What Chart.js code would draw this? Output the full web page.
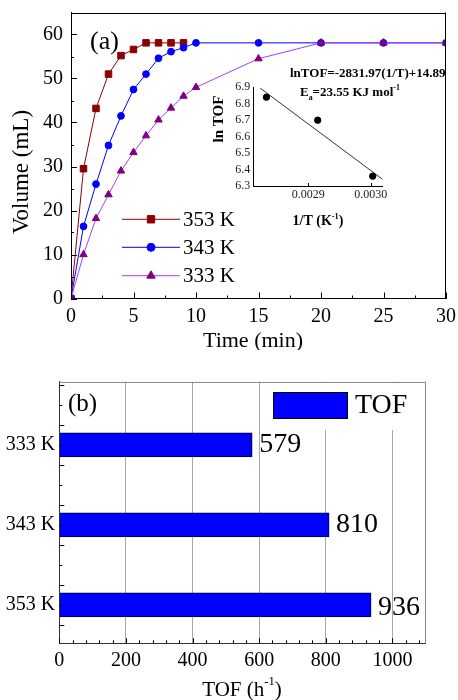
<!DOCTYPE html>
<html>
<head>
<meta charset="utf-8">
<script src="https://cdn.jsdelivr.net/npm/chart.js@4/dist/chart.umd.min.js"></script>
<style>
    html, body { margin: 0; padding: 0; background: #fff; }
    #wrap { position: relative; width: 458px; height: 700px; }
    #volChart { position: absolute; left: 0; top: 0; }
    #fitChart { position: absolute; left: 205px; top: 60px; }
    #tofChart { position: absolute; left: 0; top: 350px; }
</style>
</head>
<body>
<div id="wrap">
    <canvas id="volChart" width="458" height="350"></canvas>
    <canvas id="fitChart" width="200" height="175"></canvas>
    <canvas id="tofChart" width="458" height="350"></canvas>
</div>
<script>
// (a) volume vs time
var timeMin = [0, 1, 2, 3, 4, 5, 6, 7, 8, 9, 10, 15, 20, 25, 30];
var vol353 = [0, 29.5, 43.2, 51.0, 55.2, 56.6, 58.1, 58.1, 58.1, 58.1];
var vol343 = [0, 16.4, 26.0, 34.8, 41.5, 47.5, 51.0, 54.6, 56.1, 57.0, 58.1, 58.1, 58.1, 58.1, 58.1];
var vol333 = [0, 10.0, 18.2, 23.6, 29.0, 33.2, 37.0, 40.6, 43.3, 46.0, 48.0, 54.5, 58.1, 58.1, 58.1];
var seriesNames = ['353 K', '343 K', '333 K'];
var timeTicks = [0, 5, 10, 15, 20, 25, 30];
var volTicks = [0, 10, 20, 30, 40, 50, 60];

// inset: Arrhenius plot
var invT = [0.002833, 0.002915, 0.003003];
var lnTOF = [6.84, 6.70, 6.36];
var fitInvT = [0.002823, 0.003019];
var fitLnTOF = [6.895, 6.340];
var invTTicks = [0.0029, 0.0030];
var lnTicks = [6.3, 6.4, 6.5, 6.6, 6.7, 6.8, 6.9];

// (b) TOF bars
var tempLabels = ['353 K', '343 K', '333 K'];
var tofValues = [936, 810, 579];
var tofTicks = [0, 200, 400, 600, 800, 1000];

var serif = "'Liberation Serif', 'Times New Roman', serif";
var red = '#8b0000', blue = '#0000ff', purple = '#800080', violet = '#a040ff';

function pairs(xs, ys) {
    return ys.map(function(v, i) { return { x: xs[i], y: v }; });
}
function fontStr(size, weight) {
    return (weight || 'normal') + ' ' + size + 'px ' + serif;
}
function setTicks(list) {
    return function(s) { s.ticks = list.map(function(v) { return { value: v }; }); };
}
// fixed axis size, no extra label padding around the plot
function fixSize(size) {
    return function(s) {
        if (s.axis === 'x') s.height = size; else s.width = size;
        s.paddingTop = s.paddingBottom = s.paddingLeft = s.paddingRight = 0;
    };
}
// text with optional sup (1) / sub (-1) parts
function richText(ctx, parts, x, y, size, weight, align) {
    var total = 0;
    parts.forEach(function(p) {
        ctx.font = fontStr(p[1] ? size * 0.6 : size, weight);
        total += ctx.measureText(p[0]).width;
    });
    var cx = align === 'center' ? x - total / 2 : x;
    ctx.fillStyle = '#000';
    ctx.textAlign = 'left';
    ctx.textBaseline = 'middle';
    parts.forEach(function(p) {
        var s = p[1] ? size * 0.6 : size;
        ctx.font = fontStr(s, weight);
        ctx.fillText(p[0], cx, y - p[1] * size * 0.38);
        cx += ctx.measureText(p[0]).width;
    });
}
function line(ctx, x1, y1, x2, y2, color) {
    ctx.strokeStyle = color || '#000';
    ctx.lineWidth = 1;
    ctx.beginPath();
    ctx.moveTo(x1, y1);
    ctx.lineTo(x2, y2);
    ctx.stroke();
}
// inward ticks on bottom (x) or left (y) axis
function innerTicks(ctx, scale, from, to, step, lenFn) {
    var area = scale.chart.chartArea;
    for (var v = from; v <= to + 1e-9; v += step) {
        var len = lenFn(v);
        var p = Math.round(scale.getPixelForValue(v)) + 0.5;
        if (scale.axis === 'x') line(ctx, p, area.bottom, p, area.bottom - len);
        else line(ctx, area.left, p, area.left + len, p);
    }
}
function scaleOpts(extra) {
    var o = {
        type: 'linear',
        offset: false,
        grid: { display: false, drawTicks: false },
        border: { display: true, color: '#000', width: 1 },
        ticks: { color: '#000', maxRotation: 0, autoSkip: false, font: { family: serif, size: 20 },
                 callback: function(v) { return String(v); } }
    };
    for (var k in extra) {
        if (k === 'ticks') { for (var j in extra.ticks) o.ticks[j] = extra.ticks[j]; }
        else o[k] = extra[k];
    }
    return o;
}

var volExtras = {
    id: 'volExtras',
    afterDraw: function(chart) {
        var ctx = chart.ctx, a = chart.chartArea;
        ctx.save();
        line(ctx, a.left, Math.round(a.top) + 0.5, a.right, Math.round(a.top) + 0.5);
        line(ctx, Math.round(a.right) - 0.5, a.top, Math.round(a.right) - 0.5, a.bottom);
        innerTicks(ctx, chart.scales.x, 0, 30, 2.5, function(v) { return v % 5 === 0 ? 6 : 3; });
        innerTicks(ctx, chart.scales.y, 0, 60, 5, function(v) { return v % 10 === 0 ? 6 : 3; });

        // legend
        var rows = [219.3, 247.3, 275.7];
        chart.data.datasets.forEach(function(ds, i) {
            var y = rows[i];
            line(ctx, 122, y, 180, y, ds.borderColor);
            ctx.fillStyle = ds.pointBackgroundColor || ds.backgroundColor;
            ctx.strokeStyle = ds.pointBorderColor || ds.borderColor;
            Chart.helpers.drawPoint(ctx, { pointStyle: ds.pointStyle, radius: ds.pointRadius + 0.6, rotation: 0, borderWidth: 1 }, 151, y);
            ctx.fillStyle = '#000';
            ctx.font = fontStr(21);
            ctx.textAlign = 'left';
            ctx.textBaseline = 'middle';
            ctx.fillText(ds.label, 183, y + 1);
        });

        richText(ctx, [['(a)', 0]], 90, 41.7, 26);
        richText(ctx, [['Time (min)', 0]], 253, 341.7, 22, 'normal', 'center');
        ctx.save();
        ctx.translate(22, 172);
        ctx.rotate(-Math.PI / 2);
        richText(ctx, [['Volume (mL)', 0]], 0, 0, 23, 'normal', 'center');
        ctx.restore();

        // fit equation of the inset
        ctx.font = fontStr(13, 'bold');
        ctx.fillStyle = '#000';
        ctx.textAlign = 'left';
        ctx.textBaseline = 'middle';
        ctx.fillText('lnTOF=-2831.97(1/T)+14.89', 290, 73.3, 156);
        richText(ctx, [['E', 0], ['a', -1], ['=23.55 KJ mol', 0], ['-1', 1]], 300, 92.7, 13, 'bold');
        ctx.restore();
    }
};

new Chart(document.getElementById('volChart'), {
    type: 'line',
    data: {
        datasets: [
            { label: seriesNames[0], data: pairs(timeMin, vol353), borderColor: red, backgroundColor: red,
              pointStyle: 'rect', pointRadius: 4.6, borderWidth: 1, order: 2 },
            { label: seriesNames[1], data: pairs(timeMin, vol343), borderColor: blue, backgroundColor: blue,
              pointStyle: 'circle', pointRadius: 3.4, borderWidth: 1, order: 1 },
            { label: seriesNames[2], data: pairs(timeMin, vol333), borderColor: violet, backgroundColor: purple,
              pointBackgroundColor: purple, pointBorderColor: purple,
              pointStyle: 'triangle', pointRadius: 4.3, borderWidth: 1, order: 0 }
        ]
    },
    options: {
        responsive: false,
        animation: false,
        layout: { padding: { left: 0, top: 12.5, right: 12, bottom: 0 } },
        plugins: { legend: { display: false }, tooltip: { enabled: false } },
        scales: {
            x: scaleOpts({ min: 0, max: 30, afterBuildTicks: setTicks(timeTicks),
                afterFit: fixSize(51.5), ticks: { padding: 6 } }),
            y: scaleOpts({ min: 0, max: 65, afterBuildTicks: setTicks(volTicks),
                afterFit: fixSize(71), ticks: { padding: 8 } })
        }
    },
    plugins: [volExtras]
});

var fitExtras = {
    id: 'fitExtras',
    afterDraw: function(chart) {
        var ctx = chart.ctx;
        ctx.save();
        innerTicks(ctx, chart.scales.x, 0.0029, 0.0030, 0.0001, function() { return 3; });
        ctx.translate(14, 59);
        ctx.rotate(-Math.PI / 2);
        richText(ctx, [['ln TOF', 0]], 0, 0, 15, 'bold', 'center');
        ctx.restore();
        ctx.save();
        richText(ctx, [['1/T (K', 0], ['-1', 1], [')', 0]], 113, 161.7, 14, 'bold', 'center');
        ctx.restore();
    }
};

new Chart(document.getElementById('fitChart'), {
    type: 'scatter',
    data: {
        datasets: [
            { type: 'scatter', data: pairs(invT, lnTOF), backgroundColor: '#000', borderColor: '#000',
              pointRadius: 3.2, order: 0 },
            { type: 'line', data: pairs(fitInvT, fitLnTOF), borderColor: '#333', borderWidth: 1,
              pointRadius: 0, order: 1 }
        ]
    },
    options: {
        responsive: false,
        animation: false,
        layout: { padding: { left: 0, top: 27.3, right: 22.3, bottom: 0 } },
        plugins: { legend: { display: false }, tooltip: { enabled: false } },
        scales: {
            x: scaleOpts({ min: 0.002812, max: 0.003019, afterBuildTicks: setTicks(invTTicks),
                afterFit: fixSize(49),
                ticks: { padding: 2, font: { family: serif, size: 12 }, color: '#222',
                         callback: function(v) { return v.toFixed(4); } } }),
            y: scaleOpts({ min: 6.3, max: 6.9, afterBuildTicks: setTicks(lnTicks),
                afterFit: fixSize(48.3),
                ticks: { padding: 3, font: { family: serif, size: 12 }, color: '#222',
                         callback: function(v) { return v.toFixed(1); } } })
        }
    },
    plugins: [fitExtras]
});

var tofExtras = {
    id: 'tofExtras',
    beforeDatasetsDraw: function(chart) {
        var ctx = chart.ctx, a = chart.chartArea;
        // white patch behind legend hides grid lines
        ctx.save();
        ctx.fillStyle = '#fff';
        ctx.fillRect(265, a.top + 1, a.right - 266, 79 - a.top);
        ctx.fillStyle = '#0000ff';
        ctx.fillRect(273.3, 42.7, 74.4, 25.6);
        ctx.strokeStyle = '#000';
        ctx.lineWidth = 1;
        ctx.strokeRect(273.5, 42.5, 74, 26);
        richText(ctx, [[chart.data.datasets[0].label, 0]], 355, 56, 28);
        ctx.restore();
    },
    afterDraw: function(chart) {
        var ctx = chart.ctx, a = chart.chartArea;
        ctx.save();
        line(ctx, a.left, Math.round(a.top) + 0.5, a.right, Math.round(a.top) + 0.5, '#888');
        line(ctx, Math.round(a.right) - 0.5, a.top, Math.round(a.right) - 0.5, a.bottom, '#888');
        innerTicks(ctx, chart.scales.x, 0, 1080, 40, function(v) { return v % 200 === 0 ? 5 : 3; });
        innerTicks(ctx, chart.scales.y, -0.25, 2.75, 0.25, function(v) {
            return Math.abs(v * 4 % 2) === 1 ? 5 : 3;
        });
        // value labels at bar ends
        var meta = chart.getDatasetMeta(0);
        meta.data.forEach(function(bar, i) {
            richText(ctx, [[String(tofValues[i]), 0]], bar.x + 7, bar.y + (i === 0 ? 3 : 0), 28);
        });
        richText(ctx, [['(b)', 0]], 68, 54, 25);
        richText(ctx, [['TOF (h', 0], ['-1', 1], [')', 0]], 242, 340, 21, 'normal', 'center');
        ctx.restore();
    }
};

new Chart(document.getElementById('tofChart'), {
    type: 'bar',
    data: {
        datasets: [{
            label: 'TOF',
            data: tofValues.map(function(v, i) { return { x: v, y: i }; }),
            backgroundColor: '#0000ff',
            borderColor: '#000022',
            borderWidth: 1,
            barThickness: 24
        }]
    },
    options: {
        indexAxis: 'y',
        responsive: false,
        animation: false,
        layout: { padding: { left: 0, top: 31.7, right: 32.3, bottom: 0 } },
        plugins: { legend: { display: false }, tooltip: { enabled: false } },
        scales: {
            x: scaleOpts({ min: 0, max: 1100, afterBuildTicks: setTicks(tofTicks),
                grid: { display: true, drawTicks: false, color: '#a6a6a6' },
                border: { display: true, color: '#333', width: 1 },
                afterFit: fixSize(56.7), ticks: { padding: 5.5 } }),
            y: scaleOpts({ min: -0.48, max: 2.79, afterBuildTicks: setTicks([0, 1, 2]),
                border: { display: true, color: '#333', width: 1 },
                afterFit: fixSize(59.3),
                ticks: { padding: 4, callback: function(v) { return tempLabels[v]; } } })
        }
    },
    plugins: [tofExtras]
});
</script>
</body>
</html>
